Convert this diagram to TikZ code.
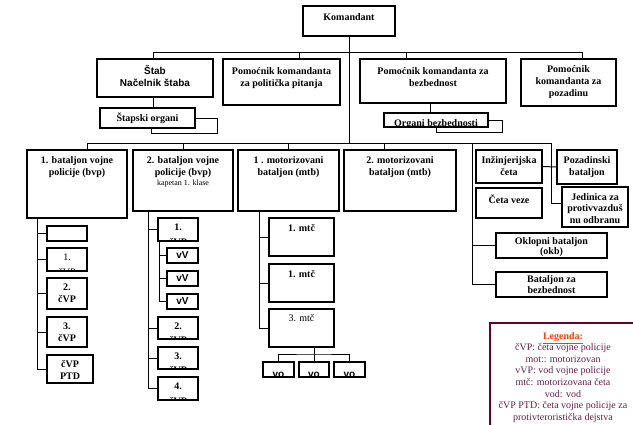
\documentclass[tikz,border=0pt]{standalone}
\usepackage{fontspec}
\setmainfont{Liberation Serif}
\setsansfont{Liberation Sans}
\usepackage{tikz}
\usetikzlibrary{positioning}
\definecolor{legframe}{RGB}{102,0,51}
\definecolor{legtext}{RGB}{100,30,70}
\definecolor{legtitle}{RGB}{255,60,0}

\tikzset{
  unit/.style={draw, line width=1.2pt, inner sep=0pt, outer sep=0pt, anchor=north west},
  wire/.style={line width=1pt},
  txt/.style={inner sep=0pt, align=center, font=\fontsize{10}{12}\selectfont\bfseries},
  stxt/.style={inner sep=0pt, align=center, font=\fontsize{10}{12.5}\selectfont\sffamily\bfseries},
  rtxt/.style={inner sep=0pt, align=center, font=\fontsize{10}{12}\selectfont}
}

\begin{document}
\begin{tikzpicture}[x=1pt, y=-1pt]
    \useasboundingbox (0,0) rectangle (633,424);

    % Komandant and his assistants
    \node[unit, minimum width=92, minimum height=30] (kom) at (303,6) {};
    \node[txt, below=7pt of kom.north] (komT) {Komandant};
    \node[unit, minimum width=116, minimum height=38] (stab) at (97,59) {};
    \node[stxt, below=6pt of stab.north] (stabT) {Štab\\Načelnik štaba};
    \node[unit, minimum width=117, minimum height=46] (pol) at (223,59) {};
    \node[txt, below=8pt of pol.north] (polT) {Pomoćnik komandanta\\za politička pitanja};
    \node[unit, minimum width=146, minimum height=44] (bez) at (360,59) {};
    \node[txt, below=8pt of bez.north] (bezT) {Pomoćnik komandanta za\\bezbednost};
    \node[unit, minimum width=95, minimum height=47] (pozd) at (521,59) {};
    \node[txt, below=6pt of pozd.north] (pozdT) {Pomoćnik\\komandanta za\\pozadinu};

    % Staff and security organs
    \node[unit, minimum width=95, minimum height=20] (stap) at (100,108) {};
    \node[txt] (stapT) at (stap.center) {Štapski organi};
    \node[unit, minimum width=104, minimum height=14] (org) at (384,113) {};
    \begin{scope}
        \clip (org.north west) rectangle (org.south east);
        \node[txt, below=6pt of org.north] (orgT) {Organi bezbednosti};
    \end{scope}

    % Battalions
    \node[unit, minimum width=100, minimum height=68] (bvp1) at (27,150) {};
    \node[txt, below=6pt of bvp1.north] (bvp1T) {1. bataljon vojne\\policije (bvp)};
    \node[unit, minimum width=100, minimum height=61] (bvp2) at (133,150) {};
    \node[txt, below=6pt of bvp2.north] (bvp2T) {2. bataljon vojne\\policije (bvp)\\[-2pt]{\mdseries\fontsize{8}{10}\selectfont kapetan 1. klase}};
    \node[unit, minimum width=101, minimum height=61] (mtb1) at (238,150) {};
    \node[txt, below=6pt of mtb1.north] (mtb1T) {1 . motorizovani\\bataljon (mtb)};
    \node[unit, minimum width=112, minimum height=61] (mtb2) at (344,150) {};
    \node[txt, below=6pt of mtb2.north] (mtb2T) {2. motorizovani\\bataljon (mtb)};

    % Independent units
    \node[unit, minimum width=66, minimum height=33] (ing) at (476,150) {};
    \node[txt, below=6pt of ing.north] (ingT) {Inžinjerijska\\četa};
    \node[unit, minimum width=60, minimum height=34] (pozb) at (557,150) {};
    \node[txt, below=6pt of pozb.north] (pozbT) {Pozadinski\\bataljon};
    \node[unit, minimum width=66, minimum height=30] (veze) at (476,188) {};
    \node[txt, below=7pt of veze.north] (vezeT) {Četa veze};
    \node[unit, minimum width=66, minimum height=40] (jed) at (562,187) {};
    \node[txt, font=\fontsize{10}{11.5}\selectfont\bfseries, below=6pt of jed.north] (jedT) {Jedinica za\\protivvazduš\\nu odbranu};
    \node[unit, minimum width=111, minimum height=25] (okb) at (496,233) {};
    \node[txt, font=\fontsize{10}{10.5}\selectfont\bfseries, below=4pt of okb.north] (okbT) {Oklopni bataljon\\(okb)};
    \node[unit, minimum width=111, minimum height=25] (bzb) at (496,272) {};
    \node[txt, font=\fontsize{10}{11}\selectfont\bfseries, below=3.5pt of bzb.north] (bzbT) {Bataljon za\\bezbednost};

    % Companies of the 1st battalion
    \node[unit, minimum width=40, minimum height=15] (e0) at (47,226) {};
    \node[unit, minimum width=40, minimum height=23] (p1) at (47,248) {};
    \begin{scope}
        \clip (p1.north west) rectangle (p1.south east);
        \node[rtxt, below=6pt of p1.north] (p1T) {1.\\[3pt]čVP};
    \end{scope}
    \node[unit, minimum width=40, minimum height=31] (p2) at (47,278) {};
    \node[txt, below=6pt of p2.north] (p2T) {2.\\čVP};
    \node[unit, minimum width=40, minimum height=30] (p3) at (47,317) {};
    \node[txt, below=6pt of p3.north] (p3T) {3.\\čVP};
    \node[unit, minimum width=46, minimum height=28] (ptd) at (47,355) {};
    \node[txt, below=5pt of ptd.north] (ptdT) {čVP\\PTD};

    % Companies of the 2nd battalion
    \node[unit, minimum width=40, minimum height=23] (q1) at (158,218) {};
    \node[unit, minimum width=31, minimum height=15] (v1) at (167,248) {};
    \node[unit, minimum width=31, minimum height=15] (v2) at (167,271) {};
    \node[unit, minimum width=31, minimum height=15] (v3) at (167,294) {};
    \node[stxt] (v1T) at (v1.center) {vV};
    \node[stxt] (v2T) at (v2.center) {vV};
    \node[stxt] (v3T) at (v3.center) {vV};
    \node[unit, minimum width=40, minimum height=22] (q2) at (158,317) {};
    \node[unit, minimum width=40, minimum height=22] (q3) at (158,347) {};
    \node[unit, minimum width=40, minimum height=23] (q4) at (158,377) {};
    \begin{scope}
        \clip (q1.north west) rectangle (q1.south east);
        \node[txt, below=6pt of q1.north] (q1T) {1.\\[3pt]čVP};
    \end{scope}
    \begin{scope}
        \clip (q2.north west) rectangle (q2.south east);
        \node[txt, below=6pt of q2.north] (q2T) {2.\\[2pt]čVP};
    \end{scope}
    \begin{scope}
        \clip (q3.north west) rectangle (q3.south east);
        \node[txt, below=6pt of q3.north] (q3T) {3.\\[2pt]čVP};
    \end{scope}
    \begin{scope}
        \clip (q4.north west) rectangle (q4.south east);
        \node[txt, below=6pt of q4.north] (q4T) {4.\\[3pt]čVP};
    \end{scope}

    % Companies of the 1st motorized battalion
    \node[unit, minimum width=65, minimum height=38] (m1) at (269,218) {};
    \node[txt, below=6pt of m1.north] (m1T) {1. mtč};
    \node[unit, minimum width=65, minimum height=38] (m2) at (269,264) {};
    \node[txt, below=6pt of m2.north] (m2T) {1. mtč};
    \node[unit, minimum width=65, minimum height=38] (m3) at (269,309) {};
    \node[rtxt, below=5pt of m3.north] (m3T) {3. mtč};
    \node[unit, minimum width=31, minimum height=15] (vo1) at (263,362) {};
    \node[unit, minimum width=30, minimum height=15] (vo2) at (299,362) {};
    \node[unit, minimum width=31, minimum height=15] (vo3) at (334,362) {};
    \begin{scope}
        \clip (vo1.north west) rectangle (vo3.south east);
        \node[stxt, below=10pt of vo1.north] (vo1T) {vo};
        \node[stxt, below=10pt of vo2.north] (vo2T) {vo};
        \node[stxt, below=10pt of vo3.north] (vo3T) {vo};
    \end{scope}

    % Upper level lines
    \coordinate (tL) at (153,52);
    \coordinate (tP) at (299,52);
    \coordinate (tB) at (406,52);
    \coordinate (tR) at (582,52);
    \draw[wire] (tL) -- (tR);
    \draw[wire] (tL) -- (tL |- stab.north);
    \draw[wire] (tP) -- (tP |- pol.north);
    \draw[wire] (tB) -- (tB |- bez.north);
    \draw[wire] (tR) -- (tR |- pozd.north);
    \draw[wire] (tL |- stab.south) -- (tL |- stap.north);
    \draw[wire] (stap.east) -| ++(22,15) -| ([xshift=3.5pt]stap.south);
    \draw[wire] ([xshift=-3pt]bez.south) -- ([xshift=-3pt]bez.south |- org.north);
    \draw[wire] (org.east) -| ++(14,12) -| (org.south);

    % Battalion level lines
    \coordinate (mid) at (349,143);
    \coordinate (mL) at (87,143);
    \coordinate (mM) at (384,143);
    \coordinate (sA) at (472,143);
    \coordinate (mR) at (551,143);
    \draw[wire] (kom.south) -- (mid);
    \draw[wire] (mL) -- (mR);
    \draw[wire] (mL) -- (mL |- bvp1.north);
    \draw[wire] (bvp2.north |- mid) -- (bvp2.north);
    \draw[wire] (mtb1.north |- mid) -- (mtb1.north);
    \draw[wire] (mM) -- (mM |- mtb2.north);
    \draw[wire] (sA) |- (bzb.west);
    \draw[wire] (sA |- okb.west) -- (okb.west);
    \draw[wire] (mR) |- ([yshift=4pt]jed.west);
    \draw[wire] (ing.east) -- (pozb.west);

    % Company level lines
    \coordinate (s1) at ([xshift=10pt]bvp1.south west);
    \draw[wire] (s1) |- (ptd.west);
    \draw[wire] (s1 |- e0.west) -- (e0.west);
    \draw[wire] (s1 |- p1.west) -- (p1.west);
    \draw[wire] (s1 |- p2.west) -- (p2.west);
    \draw[wire] (s1 |- p3.west) -- (p3.west);
    \coordinate (s2) at ([xshift=15pt]bvp2.south west);
    \draw[wire] (s2) |- (q4.west);
    \draw[wire] (s2 |- q1.west) -- (q1.west);
    \draw[wire] (s2 |- q2.west) -- (q2.west);
    \draw[wire] (s2 |- q3.west) -- (q3.west);
    \coordinate (s3) at ([xshift=1pt]q1.south west);
    \draw[wire] (s3) |- (v3.west);
    \draw[wire] (s3 |- v1.west) -- (v1.west);
    \draw[wire] (s3 |- v2.west) -- (v2.west);
    \coordinate (s4) at ([xshift=21pt]mtb1.south west);
    \draw[wire] (s4) |- (m3.west);
    \draw[wire] (s4 |- m1.west) -- (m1.west);
    \draw[wire] (s4 |- m2.west) -- (m2.west);
    \draw[wire] (vo2.north |- m3.south) -- (vo2.north);
    \draw[wire] (vo1.north) |- ([yshift=8pt]vo2.north) -| (vo3.north);

    % Legend
    \node[draw=legframe, line width=2.5pt, inner sep=0pt, outer sep=0pt, anchor=north west,
          minimum width=155, minimum height=110] (leg) at (490,323) {};
    \node[rtxt, text=legtext, font=\fontsize{10}{11.6}\selectfont, anchor=north] (legT) at (563,332) {
        {\bfseries\color{legtitle}\underline{Legenda:}}\\
        čVP: četa vojne policije\\
        mot:: motorizovan\\
        vVP: vod vojne policije\\
        mtč: motorizovana četa\\
        vod: vod\\
        čVP PTD: četa vojne policije za\\
        protivteroristička dejstva
    };
\end{tikzpicture}
\end{document}
